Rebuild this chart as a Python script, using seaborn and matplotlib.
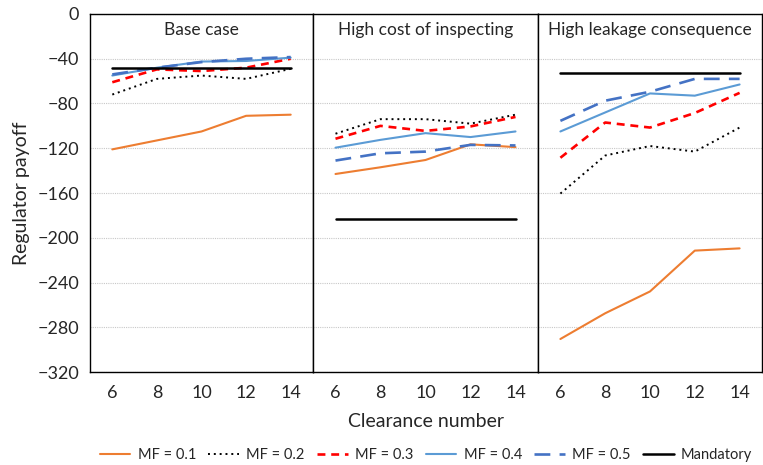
import matplotlib
matplotlib.use("Agg")
import matplotlib.pyplot as plt
import seaborn as sns
import pandas as pd
from matplotlib.lines import Line2D

sns.set_theme(style="white")
plt.rcParams['font.family'] = ['Lato', 'DejaVu Sans']

clearance = [6, 8, 10, 12, 14]
panels = ["Base case", "High cost of inspecting", "High leakage consequence"]
series = ["MF = 0.1", "MF = 0.2", "MF = 0.3", "MF = 0.4", "MF = 0.5", "Mandatory"]

base_mf01 = [-121, -113, -105, -91, -90]
base_mf02 = [-72, -58, -55, -58, -49]
base_mf03 = [-61, -49.5, -51, -48, -40]
base_mf04 = [-55, -48, -42.5, -42, -39]
base_mf05 = [-54, -48, -43, -40, -38.5]
base_mand = [-48, -48, -48, -48, -48]

cost_mf01 = [-143, -137, -130.5, -116.5, -119]
cost_mf02 = [-107, -94, -94, -98, -90]
cost_mf03 = [-111.5, -100, -104.5, -100.5, -92]
cost_mf04 = [-119.5, -112.5, -106.5, -110, -105]
cost_mf05 = [-131, -124.5, -123, -117, -117.5]
cost_mand = [-183, -183, -183, -183, -183]

leak_mf01 = [-290.5, -267.5, -248, -211.5, -209.5]
leak_mf02 = [-160.5, -126.5, -118, -123, -101.5]
leak_mf03 = [-128.5, -97, -101.5, -88.5, -70.5]
leak_mf04 = [-105, -88, -71, -73, -63]
leak_mf05 = [-95.5, -77.5, -69.5, -58, -58]
leak_mand = [-52.5, -52.5, -52.5, -52.5, -52.5]

data = {
    panels[0]: [base_mf01, base_mf02, base_mf03, base_mf04, base_mf05, base_mand],
    panels[1]: [cost_mf01, cost_mf02, cost_mf03, cost_mf04, cost_mf05, cost_mand],
    panels[2]: [leak_mf01, leak_mf02, leak_mf03, leak_mf04, leak_mf05, leak_mand],
}

styles = {
    "MF = 0.1": dict(color="#ED7D31", lw=1.5, ls="-"),
    "MF = 0.2": dict(color="#000000", lw=1.4, ls=(0, (1, 2))),
    "MF = 0.3": dict(color="#FF0000", lw=1.9, ls=(0, (3, 2.2))),
    "MF = 0.4": dict(color="#5B9BD5", lw=1.5, ls="-"),
    "MF = 0.5": dict(color="#4472C4", lw=1.9, ls=(0, (6, 3.5))),
    "Mandatory": dict(color="#000000", lw=1.8, ls="-"),
}

W, H = 763, 465
fig = plt.figure(figsize=(W / 100, H / 100), dpi=100)
xs = [90, 313, 538, 762]
top, bot = 14, 372
axes = []
for i in range(3):
    ax = fig.add_axes([xs[i] / W, (H - bot) / H, (xs[i + 1] - xs[i]) / W, (bot - top) / H])
    axes.append(ax)

for i, (ax, pname) in enumerate(zip(axes, panels)):
    for sname, vals in zip(series, data[pname]):
        df = pd.DataFrame({"x": range(len(clearance)), "y": vals})
        st = styles[sname]
        sns.lineplot(data=df, x="x", y="y", ax=ax, color=st["color"],
                     linewidth=st["lw"], linestyle=st["ls"], legend=False)
    ax.set_xlim(-0.5, len(clearance) - 0.5)
    ax.set_ylim(-320, 0)
    ax.set_yticks(range(-320, 1, 40))
    ax.yaxis.grid(True, color="#C8C8C8", linestyle=(0, (1, 1)), linewidth=0.8)
    ax.set_axisbelow(True)
    ax.set_xticks(range(len(clearance)))
    ax.set_xticklabels([str(c) for c in clearance])
    ax.tick_params(axis="x", length=0, pad=9, labelsize=13)
    ax.tick_params(axis="y", length=0, pad=8, labelsize=13)
    ax.set_xlabel("")
    ax.set_ylabel("")
    if i > 0:
        ax.tick_params(axis="y", labelleft=False)
    for sp in ax.spines.values():
        sp.set_color("black")
        sp.set_linewidth(1.0)
        sp.set_visible(True)
    ax.text(0.5, 0.955, pname, transform=ax.transAxes, ha="center", va="center", fontsize=12.5)

fig.text(22 / W, 1 - 193 / H, "Regulator payoff", rotation=90, ha="center", va="center", fontsize=14)
fig.text(426 / W, 1 - 421 / H, "Clearance number", ha="center", va="center", fontsize=14)

handles = [Line2D([0], [0], color=styles[s]["color"], lw=styles[s]["lw"], ls=styles[s]["ls"]) for s in series]
fig.legend(handles, series, loc="center", bbox_to_anchor=(426 / W, 1 - 455 / H), ncol=6,
           frameon=False, fontsize=10.5, handlelength=2.1, handletextpad=0.5, columnspacing=0.85,
           borderpad=0.1)

fig.savefig("out.png", dpi=100)
